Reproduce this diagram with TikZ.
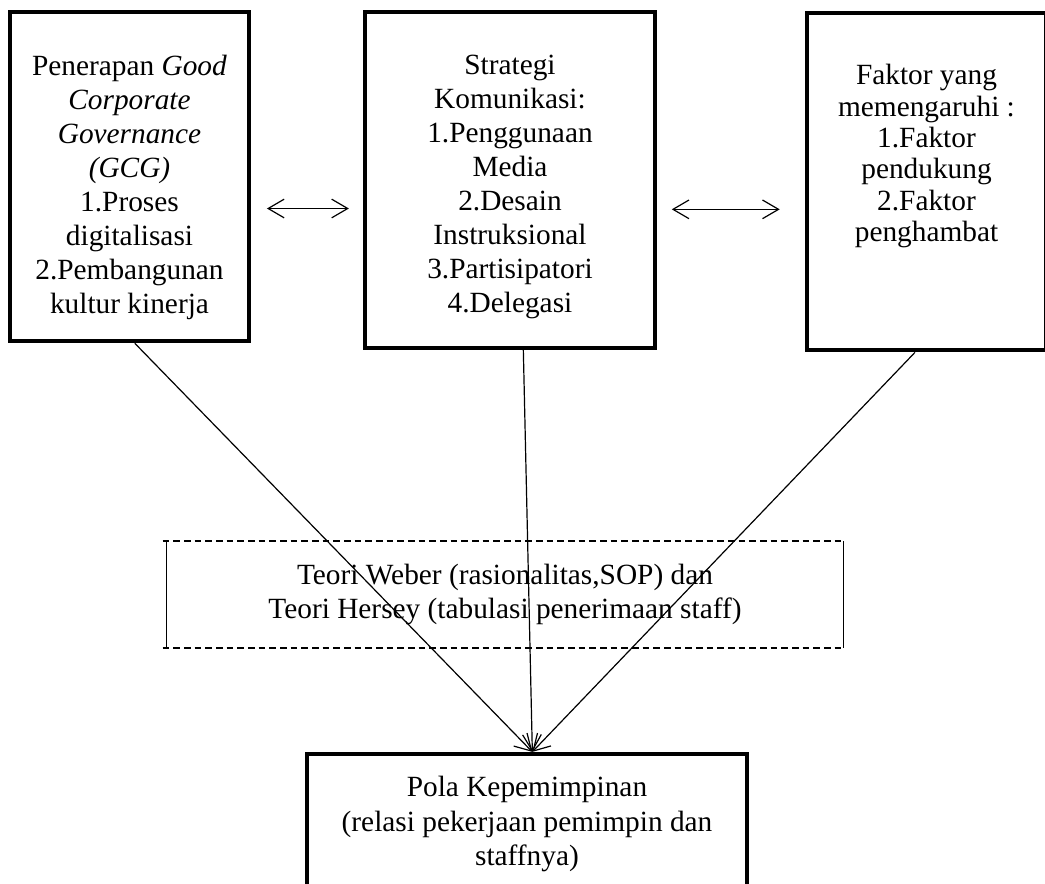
\documentclass[tikz,border=0pt]{standalone}
\usepackage{fontspec}
\setmainfont{Liberation Serif}
\usetikzlibrary{arrows.meta}

\tikzset{
  frame/.style={draw, line width=3.2pt, align=center, inner sep=0pt},
  boxtext/.style={align=center, font=\fontsize{22}{25.5}\selectfont},
  barb/.tip={Straight Barb[length=12pt,width=14pt]},
  link/.style={line width=0.9pt, -barb},
  biarrow/.style={line width=0.9pt, barb-barb},
}

\begin{document}
\begin{tikzpicture}[x=0.75pt, y=-0.75pt, font=\fontsize{22}{25}\selectfont]
  \useasboundingbox (0,0) rectangle (1045,883);
  % top row
  \node[frame, minimum width=179pt, minimum height=247pt] (gcg) at (129.5,176.5) {};
  \node[boxtext] (gcgtext) at ([yshift=-8pt]gcg.center)
    {Penerapan \textit{Good}\\ \textit{Corporate}\\ \textit{Governance}\\ \textit{(GCG)}\\
     1.Proses\\ digitalisasi\\ 2.Pembangunan\\ kultur kinerja};
  \node[frame, minimum width=217.5pt, minimum height=252pt] (strategi) at (510,180) {};
  \node[boxtext] (strategitext) at ([yshift=-5pt]strategi.center)
    {Strategi\\ Komunikasi:\\ 1.Penggunaan\\ Media\\ 2.Desain\\ Instruksional\\
     3.Partisipatori\\ 4.Delegasi};
  \node[frame, minimum width=179pt, minimum height=253pt] (faktor) at (926.5,181.5) {};
  \node[boxtext, font=\fontsize{22}{23.5}\selectfont] (faktortext) at ([yshift=19pt]faktor.center)
    {Faktor yang\\ memengaruhi :\\ 1.Faktor\\ pendukung\\ 2.Faktor\\ penghambat};
  % middle and bottom
  \node[align=center, minimum width=507pt, minimum height=80pt, inner sep=0pt] (teori) at (505,594.5)
    {Teori Weber (rasionalitas,SOP) dan\\ Teori Hersey (tabulasi penerimaan staff)};
  \node[frame, minimum width=330pt, minimum height=105pt, font=\fontsize{22}{26}\selectfont] (pola) at (527,824)
    {Pola Kepemimpinan\\ (relasi pekerjaan pemimpin dan\\ staffnya)};
  \draw[line width=1.2pt, dash pattern=on 5pt off 3pt] ([xshift=-3pt]teori.north west) -- (teori.north east);
  \draw[line width=1.2pt, dash pattern=on 5pt off 3pt] ([xshift=-3pt]teori.south west) -- (teori.south east);
  \draw[line width=1.1pt] (teori.north west) -- (teori.south west);
  \draw[line width=1.1pt] (teori.north east) -- (teori.south east);
  % arrows
  \draw[biarrow, shorten <=12pt, shorten >=10.5pt] ([yshift=-24pt]gcg.east) -- ([yshift=-24pt]gcg.east -| strategi.west);
  \draw[biarrow, shorten <=11pt, shorten >=19pt] ([yshift=-22pt]strategi.east) -- ([yshift=-22pt]strategi.east -| faktor.west);
  \draw[link] ([xshift=4pt]gcg.south) -- ([xshift=4pt]pola.north);
  \draw[link] ([xshift=10pt]strategi.south) -- ([xshift=4pt]pola.north);
  \draw[link] ([xshift=-8.6pt]faktor.south) -- ([xshift=4pt]pola.north);
\end{tikzpicture}
\end{document}
